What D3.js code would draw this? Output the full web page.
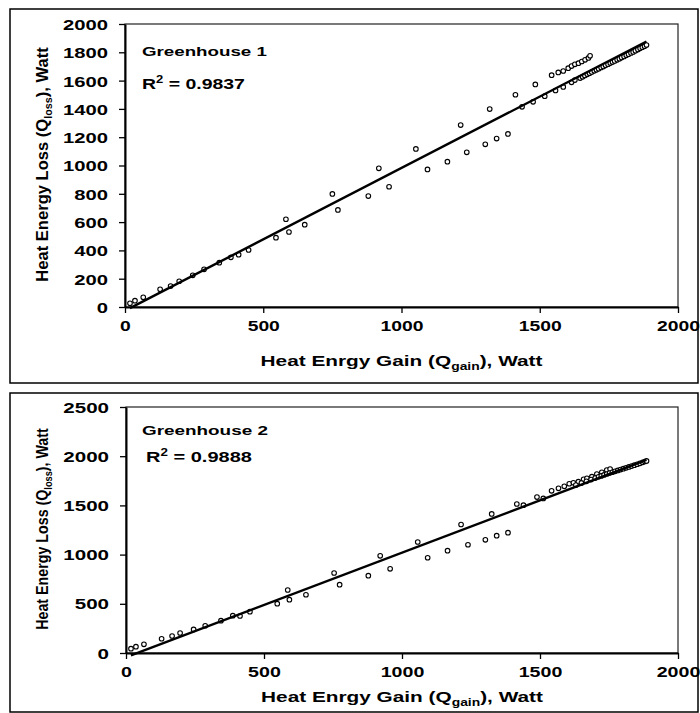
<!DOCTYPE html>
<html><head><meta charset="utf-8">
<script src="https://cdn.jsdelivr.net/npm/d3@7"></script>
<style>body{margin:0;background:#fff} svg{display:block}</style>
</head><body>
<svg id="c" width="700" height="713"></svg>
<script>
// ---------- data ----------
const gh1Gain = [18,36,66,127,165,196,245,286,341,383,411,447,546,582,593,650,750,770,880,918,955,1052,1094,1166,1214,1236,1303,1319,1344,1385,1412,1436,1476,1484,1518,1543,1557,1567,1585,1585,1603,1615,1615,1627,1627,1640,1652,1664,1676,1682,
  1646,1655,1663,1672,1680,1688,1697,1705,1713,1722,1730,1738,1747,1755,1763,1771,1780,1788,1796,1805,1813,1821,1830,1838,1846,1855,1863,1871,1879,1886];
const gh1Loss = [26,45,69,125,148,182,224,266,313,351,370,403,490,620,530,582,799,686,784,980,850,1117,972,1027,1286,1093,1150,1399,1190,1223,1500,1415,1450,1573,1490,1638,1530,1658,1555,1668,1688,1588,1703,1604,1715,1723,1735,1747,1760,1775,
  1618,1627,1636,1644,1652,1660,1669,1676,1684,1693,1700,1708,1716,1724,1731,1739,1747,1755,1763,1771,1779,1787,1795,1803,1811,1819,1828,1836,1843,1851];
const gh2Gain = [18,36,65,129,167,196,245,287,344,387,413,449,548,586,592,652,754,774,878,921,957,1057,1093,1165,1214,1239,1302,1325,1343,1384,1416,1440,1489,1512,1542,1567,1588,1606,1621,1639,1658,1670,1688,1706,1724,1742,1754,
  1630,1650,1668,1685,1700,1712,1722,1732,1742,1752,1762,1772,1782,1792,1802,1812,1822,1832,1842,1852,1862,1872,1880,1886];
const gh2Loss = [44,64,88,145,173,203,240,277,328,379,376,420,501,640,542,592,813,694,786,988,855,1128,968,1040,1306,1100,1150,1413,1192,1223,1514,1502,1585,1571,1648,1674,1694,1720,1730,1741,1765,1775,1792,1819,1836,1860,1870,
  1707,1727,1745,1762,1778,1790,1800,1810,1819,1828,1837,1846,1855,1864,1873,1882,1891,1900,1909,1918,1928,1938,1946,1952];
const xTicks = [0,500,1000,1500,2000];
const yTicks1 = [0,200,400,600,800,1000,1200,1400,1600,1800,2000];
const yTicks2 = [0,500,1000,1500,2000,2500];
const names = ["Greenhouse 1","Greenhouse 2"];
const r2Text = ["0.9837","0.9888"];
const xTitle = ["Heat Enrgy Gain (Q","gain","), Watt"];
const yTitle = ["Heat Energy Loss (Q","loss","), Watt"];

// ---------- drawing ----------
const FONT = "'Liberation Sans', Arial, Helvetica, sans-serif";
const svg = d3.select('#c');

function stretched(parent, x, y, w, anchor, size, build, rot){
  const grp = parent.append('g');
  const t = grp.append('text').attr('font-family',FONT).attr('font-weight','bold')
    .attr('font-size',size).attr('text-anchor',anchor).attr('fill','#000');
  build(t);
  const bw = t.node().getBBox().width;
  const k = w / bw;
  grp.attr('transform', `translate(${x},${y})${rot ? ' rotate(-90)' : ''} scale(${k},1)`);
  return grp;
}

function subText(t, parts, subSize){
  t.append('tspan').text(parts[0]);
  t.append('tspan').attr('font-size',subSize).attr('dy',3.5).text(parts[1]);
  t.append('tspan').attr('dy',-3.5).text(parts[2]);
}

function regression(xs, ys){
  const mx = d3.mean(xs), my = d3.mean(ys);
  let sxy = 0, sxx = 0;
  xs.forEach((v,i)=>{ sxy += (v-mx)*(ys[i]-my); sxx += (v-mx)*(v-mx); });
  const b = sxy/sxx; return {b, a: my - b*mx};
}

const panels = [
  {box:[10,9,698,383], l:125, t:24, r:678, b:307, yMax:2000, yTicks:yTicks1, gain:gh1Gain, loss:gh1Loss, idx:0,
   tickFont:15, ykW:45, xkW:43, legY:56, r2X:142, r2Y:89, nameW:125, r2W:103, xTitleY:366, yTitleLen:235, yTitleC:164.5, tickLabelY:24},
  {box:[10,393,698,712], l:126, t:407, r:678, b:653, yMax:2500, yTicks:yTicks2, gain:gh2Gain, loss:gh2Loss, idx:1,
   tickFont:14, ykW:46, xkW:44, legY:435, r2X:146, r2Y:462, nameW:126, r2W:106, xTitleY:702, yTitleLen:202, yTitleC:529, tickLabelY:24}
];

panels.forEach(p => {
  const g = svg.append('g');
  g.append('rect').attr('x',p.box[0]).attr('y',p.box[1]).attr('width',p.box[2]-p.box[0]).attr('height',p.box[3]-p.box[1])
    .attr('fill','none').attr('stroke','#000').attr('stroke-width',1.5);

  const x = d3.scaleLinear().domain([0,2000]).range([p.l,p.r]);
  const y = d3.scaleLinear().domain([0,p.yMax]).range([p.b,p.t]);

  g.append('rect').attr('x',p.l).attr('y',p.t).attr('width',p.r-p.l).attr('height',p.b-p.t)
    .attr('fill','none').attr('stroke','#222').attr('stroke-width',1.2);

  const probe = g.append('text').attr('font-family',FONT).attr('font-weight','bold').attr('font-size',p.tickFont).text('2000');
  const natW = probe.node().getBBox().width; probe.remove();
  const ky = p.ykW / natW, kx = p.xkW / natW;

  const ya = g.append('g').attr('transform',`translate(${p.l},0)`)
    .call(d3.axisLeft(y).tickValues(p.yTicks).tickSize(6).tickSizeOuter(0).tickFormat(d3.format('d')));
  ya.select('.domain').attr('stroke','#000').attr('stroke-width',2);
  ya.selectAll('.tick line').attr('stroke','#000').attr('stroke-width',1.3);
  ya.selectAll('.tick text').attr('font-family',FONT).attr('font-weight','bold').attr('font-size',p.tickFont)
    .attr('fill','#000').attr('x', -17/ky).attr('dy','0.36em').attr('transform',`scale(${ky},1)`);

  const xa = g.append('g').attr('transform',`translate(0,${p.b})`)
    .call(d3.axisBottom(x).tickValues(xTicks).tickSize(6).tickSizeOuter(0).tickFormat(d3.format('d')));
  xa.select('.domain').attr('stroke','#000').attr('stroke-width',2);
  xa.selectAll('.tick line').attr('stroke','#000').attr('stroke-width',1.3);
  xa.selectAll('.tick text').attr('font-family',FONT).attr('font-weight','bold').attr('font-size',p.tickFont)
    .attr('fill','#000').attr('y', p.tickLabelY).attr('dy',0).attr('transform',`scale(${kx},1)`);

  const pts = d3.zip(p.gain, p.loss);
  g.append('g').selectAll('circle').data(pts).join('circle')
    .attr('cx',d=>x(d[0])).attr('cy',d=>y(d[1])).attr('r',2.3)
    .attr('fill','#fff').attr('stroke','#000').attr('stroke-width',1.1);

  const reg = regression(p.gain, p.loss);
  const ext = d3.extent(p.gain);
  g.append('path').datum(ext.map(v => [v, reg.a + reg.b*v]))
    .attr('d', d3.line().x(d=>x(d[0])).y(d=>y(d[1])))
    .attr('stroke','#000').attr('stroke-width',2.4).attr('fill','none');

  stretched(g, 142, p.legY, p.nameW, 'start', 13, t => t.text(names[p.idx]));
  stretched(g, p.r2X, p.r2Y, p.r2W, 'start', 15, t => {
    t.append('tspan').text('R');
    t.append('tspan').attr('font-size',10).attr('dy',-6).text('2');
    t.append('tspan').attr('dy',6).text(' = ' + r2Text[p.idx]);
  });

  stretched(g, (p.l+p.r)/2, p.xTitleY, 282, 'middle', 15, t => subText(t, xTitle, 10));
  stretched(g, 48, p.yTitleC, p.yTitleLen, 'middle', 17, t => subText(t, yTitle, 11), true);
});
</script>
</body></html>
